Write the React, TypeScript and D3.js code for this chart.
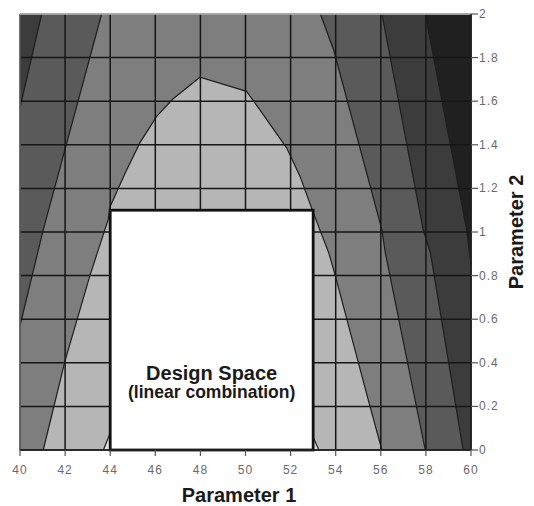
import React from "react";
import * as d3 from "d3";

// axis ticks
const xTicks = [40, 42, 44, 46, 48, 50, 52, 54, 56, 58, 60];
const yTicks = [0, 0.2, 0.4, 0.6, 0.8, 1, 1.2, 1.4, 1.6, 1.8, 2];

// contour boundaries, [parameter1, parameter2]
const leftDarkerEdge = [[40.96, 2.0], [40, 1.57]];
const leftDarkEdge = [[43.62, 2.0], [41.03, 1.01], [40, 0.57]];
const lightEdge = [
  [41.03, 0], [42.0, 0.41], [43.1, 0.8], [43.92, 1.06], [43.99, 1.115],
  [44.66, 1.27], [45.32, 1.41], [46.06, 1.53], [46.78, 1.61], [47.98, 1.71],
  [50.05, 1.645], [50.64, 1.56], [51.83, 1.385], [52.42, 1.255], [53.0, 1.09],
  [53.69, 0.905], [53.98, 0.8], [55.52, 0.2], [56.05, 0],
];
const rightDarkEdge = [[53.32, 2.0], [53.91, 1.835], [56.05, 1.01], [56.2, 0.905], [57.97, 0]];
const rightDarkerEdge = [[56.05, 2.0], [57.88, 1.01], [58.2, 0.905], [59.65, 0]];
const rightDarkestEdge = [[57.97, 2.0], [59.81, 1.01], [60, 0.85]];
const lightestEdge = [[43.7, 0], [43.99, 0.076], [44.4, 0.13], [52.6, 0.13], [53.02, 0.055], [53.25, 0]];

// design space box
const designX = [44, 53];
const designY = [0, 1.1];

const colors = {
  lightest: "#e2e2e2",
  light: "#b6b6b6",
  medium: "#7e7e7e",
  dark: "#5a5a5a",
  darker: "#3c3c3c",
  darkest: "#202020",
};

export default function App() {
  const margin = { top: 14, right: 63, bottom: 56, left: 20 };
  const W = 534, H = 506;
  const x = d3.scaleLinear().domain([40, 60]).range([margin.left, W - margin.right]);
  const y = d3.scaleLinear().domain([0, 2]).range([H - margin.bottom, margin.top]);
  const line = d3.line<number[]>().x(d => x(d[0])).y(d => y(d[1]));
  const area = (pts: number[][]) => line(pts) + "Z";

  const font = "'Liberation Sans', Arial, sans-serif";

  const bands = [
    { pts: [...leftDarkEdge, [40, 2]], fill: colors.dark },
    { pts: [...leftDarkerEdge, [40, 2]], fill: colors.darker },
    { pts: lightEdge, fill: colors.light },
    { pts: [...rightDarkEdge, [60, 0], [60, 2]], fill: colors.dark },
    { pts: [...rightDarkerEdge, [60, 0], [60, 2]], fill: colors.darker },
    { pts: [...rightDarkestEdge, [60, 2]], fill: colors.darkest },
    { pts: lightestEdge, fill: colors.lightest },
  ];
  const edges = [leftDarkerEdge, leftDarkEdge, lightEdge, rightDarkEdge, rightDarkerEdge, rightDarkestEdge, lightestEdge];

  const [x0, x1] = x.range();
  const [y0, y1] = y.range();
  const cx = (x(designX[0]) + x(designX[1])) / 2;

  return (
    <svg width={W} height={H} style={{ position: "absolute", left: 0, top: 0, background: "#fff" }}>
      <rect x={x0} y={y1} width={x1 - x0} height={y0 - y1} fill={colors.medium} />
      {bands.map((b, i) => (
        <path key={"b" + i} d={area(b.pts)} fill={b.fill} />
      ))}
      {edges.map((e, i) => (
        <path key={"e" + i} d={line(e) || ""} fill="none" stroke="#1e1e1e" strokeWidth={1.2} />
      ))}
      {/* grid */}
      {xTicks.map(t => (
        <line key={"gx" + t} x1={x(t)} x2={x(t)} y1={y0} y2={y1} stroke="#161616" strokeWidth={1.5} />
      ))}
      {yTicks.map(t => (
        <line key={"gy" + t} x1={x0} x2={x1} y1={y(t)} y2={y(t)} stroke="#161616" strokeWidth={1.5} />
      ))}
      <line x1={x0} x2={x1} y1={y1} y2={y1} stroke="#c8c8c8" strokeWidth={1.5} />
      <line x1={x0} x2={x0} y1={y1} y2={y0} stroke="#8a8a8a" strokeWidth={1} />

      {/* design space */}
      <rect
        x={x(designX[0])}
        y={y(designY[1])}
        width={x(designX[1]) - x(designX[0])}
        height={y(designY[0]) - y(designY[1])}
        fill="#fff"
        stroke="#111"
        strokeWidth={2.8}
      />
      <text x={cx} y={380} textAnchor="middle"
        fontFamily={font} fontWeight="bold" fontSize={20} fill="#1a1a1a">Design Space</text>
      <text x={cx} y={398} textAnchor="middle"
        fontFamily={font} fontWeight="bold" fontSize={17.5} fill="#1a1a1a">(linear combination)</text>

      {/* x axis */}
      <line x1={x0} x2={x1} y1={y0} y2={y0} stroke="#222" strokeWidth={1.5} />
      {xTicks.map(t => (
        <g key={"tx" + t}>
          <line x1={x(t)} x2={x(t)} y1={y0} y2={y0 + 6} stroke="#555" strokeWidth={1.2} />
          <text x={x(t)} y={y0 + 24} textAnchor="middle" fontFamily={font} fontSize={12}
            letterSpacing={1} fill="#6a6a6a">{t}</text>
        </g>
      ))}
      <text x={239} y={502} textAnchor="middle" fontFamily={font} fontWeight="bold" fontSize={20} fill="#1a1a1a">Parameter 1</text>

      {/* y axis on the right */}
      <line x1={x1} x2={x1} y1={y0} y2={y1} stroke="#222" strokeWidth={1.5} />
      {yTicks.map(t => (
        <g key={"ty" + t}>
          <line x1={x1} x2={x1 + 7} y1={y(t)} y2={y(t)} stroke="#555" strokeWidth={1.2} />
          <text x={x1 + 8} y={y(t) + 4} textAnchor="start" fontFamily={font} fontSize={12}
            letterSpacing={1} fill="#6a6a6a">{t}</text>
        </g>
      ))}
      <text transform={`translate(523,${(y0 + y1) / 2}) rotate(-90)`} textAnchor="middle"
        fontFamily={font} fontWeight="bold" fontSize={20} fill="#1a1a1a">Parameter 2</text>
    </svg>
  );
}
